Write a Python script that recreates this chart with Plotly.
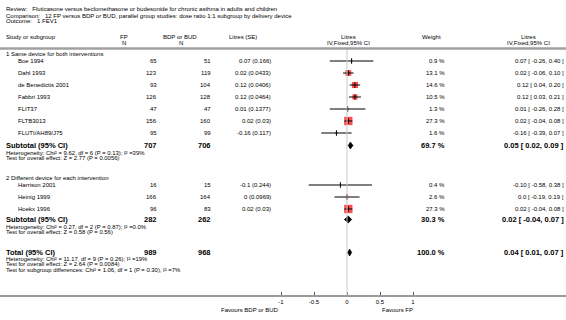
import plotly.graph_objects as go
import math

W, H = 566, 320

# ---------------- data ----------------
title_lines = [
    "Review:   Fluticasone versus beclomethasone or budesonide for chronic asthma in adults and children",
    "Comparison:   12 FP versus BDP or BUD, parallel group studies: dose ratio 1:1 subgroup by delivery device",
    "Outcome:   1 FEV1",
]

group1_name = "1 Same device for both interventions"
g1_studies = ["Boe 1994", "Dahl 1993", "de Benedictis 2001", "Fabbri 1993", "FLIT37", "FLTB3013", "FLUTI/AH89/J75"]
g1_fp_n = [65, 123, 93, 126, 47, 156, 95]
g1_bdp_n = [51, 119, 104, 128, 47, 160, 99]
g1_md_se = ["0.07 (0.166)", "0.02 (0.0433)", "0.12 (0.0406)", "0.12 (0.0464)", "0.01 (0.1377)", "0.02 (0.03)", "-0.16 (0.117)"]
g1_est = [0.07, 0.02, 0.12, 0.12, 0.01, 0.02, -0.16]
g1_lo = [-0.26, -0.06, 0.04, 0.03, -0.26, -0.04, -0.39]
g1_hi = [0.40, 0.10, 0.20, 0.21, 0.28, 0.08, 0.07]
g1_weight = [0.9, 13.1, 14.6, 10.5, 1.3, 27.3, 1.6]
g1_effect = ["0.07 [ -0.26, 0.40 ]", "0.02 [ -0.06, 0.10 ]", "0.12 [ 0.04, 0.20 ]", "0.12 [ 0.03, 0.21 ]",
             "0.01 [ -0.26, 0.28 ]", "0.02 [ -0.04, 0.08 ]", "-0.16 [ -0.39, 0.07 ]"]
g1_sub = {"fp": 707, "bdp": 706, "est": 0.05, "lo": 0.02, "hi": 0.09, "w": 69.7}
g1_het = "Heterogeneity: Chi² = 9.62, df = 6 (P = 0.13); I² =39%"
g1_test = "Test for overall effect: Z = 2.77 (P = 0.0056)"

group2_name = "2 Different device for each intervention"
g2_studies = ["Harrison 2001", "Heinig 1999", "Hoekx 1996"]
g2_fp_n = [16, 166, 96]
g2_bdp_n = [15, 164, 83]
g2_md_se = ["-0.1 (0.244)", "0 (0.0969)", "0.02 (0.03)"]
g2_est = [-0.10, 0.0, 0.02]
g2_lo = [-0.58, -0.19, -0.04]
g2_hi = [0.38, 0.19, 0.08]
g2_weight = [0.4, 2.6, 27.3]
g2_effect = ["-0.10 [ -0.58, 0.38 ]", "0.0 [ -0.19, 0.19 ]", "0.02 [ -0.04, 0.08 ]"]
g2_sub = {"fp": 282, "bdp": 262, "est": 0.02, "lo": -0.04, "hi": 0.07, "w": 30.3}
g2_het = "Heterogeneity: Chi² = 0.27, df = 2 (P = 0.87); I² =0.0%"
g2_test = "Test for overall effect: Z = 0.58 (P = 0.56)"

total = {"fp": 989, "bdp": 968, "est": 0.04, "lo": 0.01, "hi": 0.07, "w": 100.0}
total_het = "Heterogeneity: Chi² = 11.17, df = 9 (P = 0.26); I² =19%"
total_test = "Test for overall effect: Z = 2.64 (P = 0.0084)"
subgroup_test = "Test for subgroup differences: Chi² = 1.06, df = 1 (P = 0.30), I² =7%"

tick_vals = [-1, -0.5, 0, 0.5, 1]
tick_text = ["-1", "-0.5", "0", "0.5", "1"]
favours_left = "Favours BDP or BUD"
favours_right = "Favours FP"

# ---------------- layout (pixel rows) ----------------
FONT = "Liberation Sans, Arial, sans-serif"
FS = 6.0      # regular text
FS_SMALL = 5.9
FS_BOLD = 7.5
ZERO_PX = 347.0
UNIT_PX = 66.0
AXIS_Y = 295.0
HEADER_LINE_Y = 48.5

g1_rows = [61, 73, 85, 97, 109, 121, 133]
g1_head_y, g1_sub_y, g1_het_y, g1_test_y = 54, 145.5, 152.5, 158
g2_rows = [185, 197, 209]
g2_head_y, g2_sub_y, g2_het_y, g2_test_y = 178, 219.5, 226.5, 232
tot_y, tot_het_y, tot_test_y, sub_test_y = 252.5, 259, 264.3, 269.6

X_STUDY_HEAD = 5
X_STUDY = 17
X_FP = 158
X_BDP = 212
X_MDSE = 272
X_WEIGHT = 446
X_EFFECT = 565

fig = go.Figure()
ann = []


def txt(x, y, s, anchor="left", size=FS, bold=False, color="#000"):
    ann.append(dict(
        x=x / W, y=1 - y / H, xref="paper", yref="paper",
        text=f"<b>{s}</b>" if bold else s, showarrow=False,
        xanchor=anchor, yanchor="middle", borderpad=0,
        font=dict(family=FONT, size=size, color=color)))


def fmt_ci(est, lo, hi):
    return f"{est:.2f} [ {lo:.2f}, {hi:.2f} ]"


# titles
for s, y in zip(title_lines, [9, 15.5, 21.5]):
    txt(5, y, s)

# headers
txt(5, 37, "Study or subgroup")
txt(124, 37, "FP", "center")
txt(124, 43, "N", "center")
txt(180, 37, "BDP or BUD", "center")
txt(181, 43, "N", "center")
txt(228, 37, "Litres (SE)")
txt(348, 37, "Litres", "center")
txt(348, 43, "IV,Fixed,95% CI", "center")
txt(431, 37, "Weight", "center")
txt(528, 37, "Litres", "center")
txt(528, 43, "IV,Fixed,95% CI", "center")


def study_block(head, head_y, names, rows, fpn, bdpn, mdse, est, lo, hi, w, eff):
    txt(X_STUDY_HEAD, head_y, head)
    for i, r in enumerate(rows):
        txt(X_STUDY, r, names[i])
        txt(X_FP, r, str(fpn[i]), "right")
        txt(X_BDP, r, str(bdpn[i]), "right")
        txt(X_MDSE, r, mdse[i], "right")
        txt(X_WEIGHT, r, f"{w[i]:.1f} %", "right")
        txt(X_EFFECT, r, eff[i], "right")
    # squares (area proportional to weight)
    fig.add_trace(go.Scatter(
        x=est, y=rows, mode="markers", hoverinfo="skip",
        marker=dict(symbol="square", color="#ff0000",
                    size=[1.6 * math.sqrt(v) for v in w], line=dict(width=0))))
    # CI lines
    for i, r in enumerate(rows):
        fig.add_trace(go.Scatter(x=[lo[i], hi[i]], y=[r, r], mode="lines", hoverinfo="skip",
                                 line=dict(color="#000", width=1)))
    fig.add_trace(go.Scatter(x=est, y=rows, mode="markers", hoverinfo="skip",
                             marker=dict(symbol="line-ns", size=4, line=dict(color="#000", width=1))))


def summary(label, y, d, het, test, het_y, test_y):
    txt(5, y, label, size=FS_BOLD, bold=True)
    txt(X_FP, y, str(d["fp"]), "right", FS_BOLD, True)
    txt(X_BDP, y, str(d["bdp"]), "right", FS_BOLD, True)
    txt(X_WEIGHT, y, f"{d['w']:.1f} %", "right", FS_BOLD, True)
    txt(X_EFFECT, y, fmt_ci(d["est"], d["lo"], d["hi"]), "right", FS_BOLD, True)
    txt(5, het_y, het, size=FS_SMALL)
    txt(5, test_y, test, size=FS_SMALL)
    fig.add_trace(go.Scatter(
        x=[d["lo"], d["est"], d["hi"], d["est"], d["lo"]],
        y=[y, y - 3.4, y, y + 3.4, y], mode="lines", fill="toself",
        fillcolor="#000", line=dict(color="#000", width=0.8), hoverinfo="skip"))


study_block(group1_name, g1_head_y, g1_studies, g1_rows, g1_fp_n, g1_bdp_n, g1_md_se,
            g1_est, g1_lo, g1_hi, g1_weight, g1_effect)
summary("Subtotal (95% CI)", g1_sub_y, g1_sub, g1_het, g1_test, g1_het_y, g1_test_y)
study_block(group2_name, g2_head_y, g2_studies, g2_rows, g2_fp_n, g2_bdp_n, g2_md_se,
            g2_est, g2_lo, g2_hi, g2_weight, g2_effect)
summary("Subtotal (95% CI)", g2_sub_y, g2_sub, g2_het, g2_test, g2_het_y, g2_test_y)
summary("Total (95% CI)", tot_y, total, total_het, total_test, tot_het_y, tot_test_y)
txt(5, sub_test_y, subgroup_test, size=FS_SMALL)

# favours labels
txt(280, 310, favours_left, "right")
txt(381, 310, favours_right, "left")

# zero line and header rule
shapes = [
    dict(type="line", xref="x", yref="y", x0=0, x1=0, y0=HEADER_LINE_Y, y1=AXIS_Y,
         line=dict(color="#c8c8c8", width=1)),
    dict(type="line", xref="paper", yref="paper", x0=0, x1=1,
         y0=1 - HEADER_LINE_Y / H, y1=1 - HEADER_LINE_Y / H,
         line=dict(color="#a0a0a0", width=2.5)),
]

x_left = -ZERO_PX / UNIT_PX
x_right = (W - ZERO_PX) / UNIT_PX
y_dom0 = 1 - AXIS_Y / H

fig.update_layout(
    width=W, height=H, margin=dict(l=0, r=0, t=0, b=0),
    paper_bgcolor="white", plot_bgcolor="white", showlegend=False,
    annotations=ann, shapes=shapes,
    xaxis=dict(range=[x_left, x_right], domain=[0, 1], showgrid=False, zeroline=False,
               showline=True, linecolor="#9a9a9a", linewidth=2,
               ticks="inside", ticklen=3, tickcolor="#555", tickwidth=1,
               tickvals=tick_vals, ticktext=tick_text, fixedrange=True,
               tickfont=dict(family=FONT, size=FS, color="#000")),
    yaxis=dict(range=[AXIS_Y, 0], domain=[y_dom0, 1], visible=False, fixedrange=True),
)

fig.write_html("out.html", config={"displayModeBar": False, "staticPlot": True},
               post_script="document.body.style.margin='0';document.body.style.overflow='hidden';")
